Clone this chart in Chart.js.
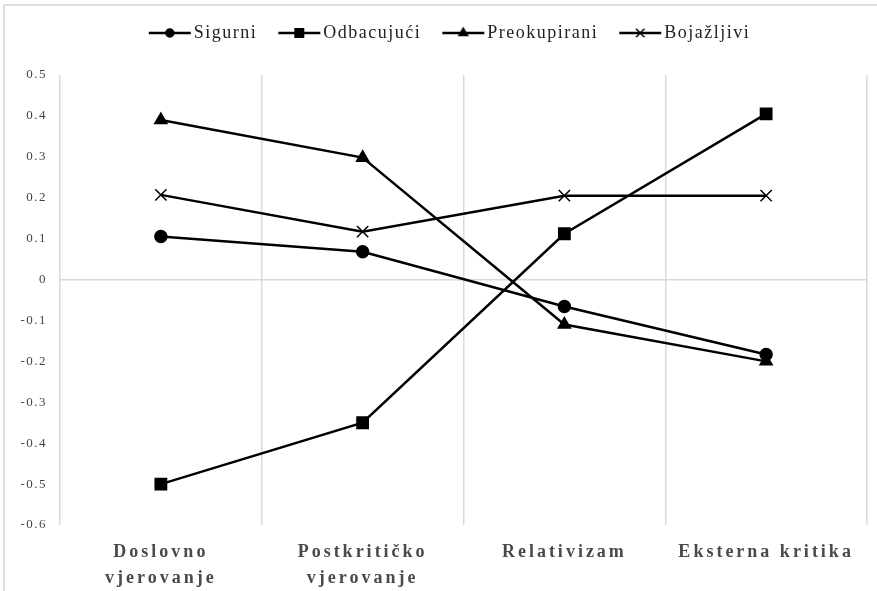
<!DOCTYPE html>
<html>
<head>
<meta charset="utf-8">
<script src="https://cdn.jsdelivr.net/npm/chart.js@4"></script>
<style>
  html, body { margin: 0; padding: 0; background: #fff; }
  #wrap { position: relative; width: 877px; height: 591px; }
  #frame {
    position: absolute; left: 3px; top: 4px; right: -4px; bottom: -4px;
    border-left: 2px solid #dedede; border-top: 2px solid #dedede;
    pointer-events: none;
  }
  canvas { position: absolute; left: 0; top: 0; }
</style>
</head>
<body>
<div id="wrap">
  <canvas id="chart" width="877" height="591"></canvas>
  <div id="frame"></div>
</div>
<script>
// categories on the x axis
const categories = [
  ['Doslovno', 'vjerovanje'],
  ['Postkritičko', 'vjerovanje'],
  'Relativizam',
  'Eksterna kritika'
]

// series values
const sigurni = [0.105, 0.068, -0.066, -0.183]
const odbacujuci = [-0.50, -0.35, 0.112, 0.405]
const preokupirani = [0.39, 0.298, -0.11, -0.20]
const bojazljivi = [0.207, 0.117, 0.205, 0.205]

const seriesNames = ['Sigurni', 'Odbacujući', 'Preokupirani', 'Bojažljivi']

// y axis range
const yMin = -0.6
const yMax = 0.5
const yStep = 0.1

const markers = [
  { style: 'circle', radius: 6, legendRadius: 4 },
  { style: 'rect', radius: 8, legendRadius: 6 },
  { style: 'triangle', radius: 7, legendRadius: 5 },
  { style: 'crossRot', radius: 8, legendRadius: 6 }
]

// little line + marker picture for each legend entry
function legendSwatch (marker) {
  const c = document.createElement('canvas')
  c.width = 46
  c.height = 16
  const ctx = c.getContext('2d')
  ctx.strokeStyle = '#000'
  ctx.fillStyle = '#000'
  ctx.lineWidth = 2.5
  ctx.beginPath()
  ctx.moveTo(2, 8)
  ctx.lineTo(44, 8)
  ctx.stroke()
  ctx.lineWidth = 1.5
  Chart.helpers.drawPoint(ctx, { pointStyle: marker.style, radius: marker.legendRadius, rotation: 0, borderWidth: 1.5 }, 23, 8)
  return c
}

const legendPadding = 27

const spacing = {
  id: 'spacing',
  beforeLayout (chart) { chart.ctx.letterSpacing = '1.5px' },
  afterLayout (chart) {
    // put the legend row where the reference has it
    const lg = chart.legend
    const h = lg.bottom - lg.top
    lg.left += 17
    lg.right += 17
    lg.top = 35 - legendPadding - 11
    lg.bottom = lg.top + h
  },
  beforeDraw (chart) { chart.ctx.letterSpacing = '1.5px' },
  afterDatasetsDraw (chart) { chart.ctx.letterSpacing = '3px' },
  afterDraw (chart) { chart.ctx.letterSpacing = '0px' }
}

const allValues = [sigurni, odbacujuci, preokupirani, bojazljivi]

const ctx = document.getElementById('chart').getContext('2d')
const chart = new Chart(ctx, {
  type: 'line',
  data: {
    labels: categories,
    datasets: allValues.map((values, i) => ({
      label: seriesNames[i],
      data: values,
      borderColor: '#000',
      backgroundColor: '#000',
      borderWidth: 2.5,
      pointStyle: markers[i].style,
      pointRadius: markers[i].radius,
      pointBorderWidth: 1.5,
      pointBackgroundColor: '#000',
      pointBorderColor: '#000',
      tension: 0,
      fill: false
    }))
  },
  options: {
    responsive: false,
    devicePixelRatio: 1,
    animation: false,
    layout: {
      padding: { top: 10, left: 4, right: 10, bottom: 0 }
    },
    plugins: {
      tooltip: { enabled: false },
      legend: {
        position: 'top',
        labels: {
          usePointStyle: true,
          pointStyleWidth: 30,
          padding: legendPadding,
          color: '#222',
          font: { family: 'Liberation Serif', size: 18 },
          generateLabels: (c) => c.data.datasets.map((ds, i) => ({
            text: ds.label,
            pointStyle: legendSwatch(markers[i]),
            fillStyle: '#000',
            strokeStyle: '#000',
            lineWidth: 0,
            fontColor: '#222',
            hidden: false,
            datasetIndex: i
          }))
        }
      }
    },
    scales: {
      x: {
        offset: true,
        afterFit: (scale) => { scale.height = 66 },
        grid: {
          offset: true,
          color: '#d9d9d9',
          lineWidth: 1.5,
          drawTicks: false
        },
        border: { display: false },
        ticks: {
          z: 1,
          padding: 14,
          maxRotation: 0,
          autoSkip: false,
          color: '#4a4a4a',
          font: { family: 'Liberation Serif', size: 18, weight: 'bold', lineHeight: 1.45 }
        }
      },
      y: {
        min: yMin,
        max: yMax,
        afterFit: (scale) => { scale.width = 56 },
        grid: {
          color: (c) => (Math.abs(c.tick.value) < 1e-9 ? '#d9d9d9' : 'rgba(0,0,0,0)'),
          lineWidth: 1.5,
          drawTicks: false
        },
        border: { display: false },
        ticks: {
          stepSize: yStep,
          padding: 13,
          color: '#444',
          font: { family: 'Liberation Serif', size: 13 },
          callback: (v) => String(Math.round(v * 10) / 10)
        }
      }
    }
  },
  plugins: [spacing]
})

// nudge the plot area to where it sits in the reference
const dy = 75 - chart.chartArea.top
if (Math.abs(dy) > 0.5) {
  chart.options.layout.padding.top += dy
  chart.update()
}
</script>
</body>
</html>
